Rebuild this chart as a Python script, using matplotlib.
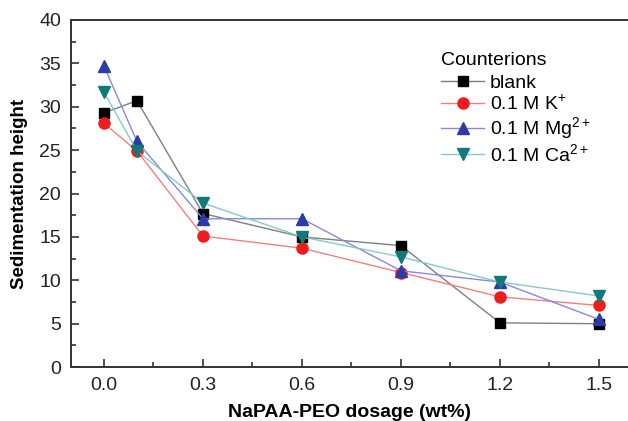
import matplotlib.pyplot as plt
from matplotlib.ticker import MultipleLocator

plt.rcParams['font.family'] = ['Liberation Sans', 'DejaVu Sans']
plt.rcParams['mathtext.fontset'] = 'custom'
plt.rcParams['mathtext.rm'] = 'Liberation Sans'
plt.rcParams['mathtext.it'] = 'Liberation Sans'

dosage = [0.0, 0.1, 0.3, 0.6, 0.9, 1.2, 1.5]
blank = [29.3, 30.7, 17.7, 15.0, 14.0, 5.1, 5.0]
k_ion = [28.1, 24.9, 15.1, 13.7, 10.9, 8.1, 7.1]
mg_ion = [34.7, 26.0, 17.1, 17.1, 11.1, 9.8, 5.5]
ca_ion = [31.7, 24.9, 18.9, 15.0, 12.7, 9.8, 8.2]
labels = ['blank', '0.1 M K$^{+}$', '0.1 M Mg$^{2+}$', '0.1 M Ca$^{2+}$']

fig = plt.figure(figsize=(6.28, 4.21), dpi=100)
ax = fig.add_axes([0.113, 0.128, 0.887, 0.8245])

ax.plot(dosage, blank, color='#7f7f7f', lw=1, marker='s', ms=7,
        mfc='black', mec='black', label=labels[0])
ax.plot(dosage, k_ion, color='#f08080', lw=1, marker='o', ms=8,
        mfc='#ee1c1c', mec='#ee1c1c', label=labels[1])
ax.plot(dosage, mg_ion, color='#8888e0', lw=1, marker='^', ms=9,
        mfc='#2b3ba8', mec='#2b3ba8', label=labels[2])
ax.plot(dosage, ca_ion, color='#88c8c8', lw=1, marker='v', ms=8,
        mfc='#117a78', mec='#117a78', label=labels[3])

ax.set_xlim(-0.1, 1.588)
ax.set_ylim(0, 40)
ax.xaxis.set_major_locator(MultipleLocator(0.3))
ax.xaxis.set_minor_locator(MultipleLocator(0.15))
ax.yaxis.set_major_locator(MultipleLocator(5))
ax.yaxis.set_minor_locator(MultipleLocator(2.5))
ax.set_xticks([0.0, 0.3, 0.6, 0.9, 1.2, 1.5])
ax.set_xticklabels(['0.0', '0.3', '0.6', '0.9', '1.2', '1.5'])
ax.tick_params(which='both', direction='in', top=False, right=False,
               labelsize=14, color='#333333', labelcolor='#222222')
ax.tick_params(which='major', length=6, width=1.2, pad=7)
ax.tick_params(which='minor', length=3.5, width=1.2)
for s in ['left', 'bottom', 'top']:
    ax.spines[s].set_linewidth(1.4)
    ax.spines[s].set_color('#333333')
ax.spines['right'].set_visible(False)

ax.set_xlabel('NaPAA-PEO dosage (wt%)', fontsize=14, fontweight='bold', labelpad=7)
ax.set_ylabel('Sedimentation height', fontsize=13.5, fontweight='bold', labelpad=8)

leg = ax.legend(title='Counterions', loc='upper left', bbox_to_anchor=(0.651, 0.93),
                frameon=False, fontsize=14, title_fontsize=14,
                handlelength=2.2, labelspacing=0.1, borderaxespad=0,
                handletextpad=0.3)
leg._legend_box.align = 'left'
leg._legend_box.sep = 4

fig.savefig('out.png', dpi=100)
